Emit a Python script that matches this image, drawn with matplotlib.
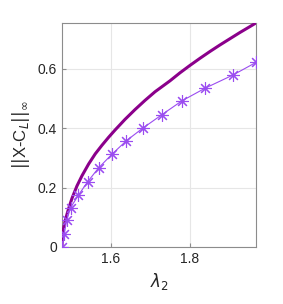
import matplotlib
matplotlib.use("Agg")
import matplotlib.pyplot as plt

# solid curve
curve_x = [1.476, 1.4764, 1.4775, 1.479, 1.481, 1.4844, 1.4890, 1.4930,
           1.5013, 1.5140, 1.5266, 1.5436, 1.5603, 1.5773, 1.5942, 1.6102,
           1.6355, 1.6608, 1.6861, 1.7114, 1.7494, 1.7747, 1.800, 1.8254,
           1.8507, 1.876, 1.9013, 1.9266, 1.952, 1.967]
curve_y = [0.0, 0.022, 0.040, 0.055, 0.070, 0.090, 0.112, 0.130,
           0.164, 0.206, 0.240, 0.280, 0.314, 0.343, 0.370, 0.394,
           0.430, 0.463, 0.494, 0.523, 0.560, 0.587, 0.612, 0.636,
           0.659, 0.681, 0.702, 0.723, 0.743, 0.755]

# marker series
mark_x = [1.4768, 1.4818, 1.4879, 1.498, 1.5173, 1.541, 1.569, 1.602, 1.638,
          1.680, 1.728, 1.779, 1.838, 1.9095, 1.967]
mark_y = [0.0, 0.045, 0.09, 0.133, 0.174, 0.22, 0.267, 0.312, 0.357, 0.400,
          0.445, 0.492, 0.535, 0.580, 0.622]

plt.rcParams["font.family"] = ["Liberation Sans", "DejaVu Sans"]

fig = plt.figure(figsize=(2.83, 3.04), dpi=100)
ax = fig.add_axes([0.219, 0.1875, 0.6855, 0.737])

ax.plot(curve_x, curve_y, color="#8B008B", lw=2.2, zorder=3)
ax.plot(mark_x, mark_y, color="#9B4DF0", lw=0.8, marker=(8, 2, 0),
        markersize=9, markeredgewidth=0.8, zorder=4)

ax.set_xlim(1.476, 1.967)
ax.set_ylim(0, 0.755)
ax.set_xticks([1.6, 1.8])
ax.set_yticks([0, 0.2, 0.4, 0.6])
ax.set_yticklabels(["0", "0.2", "0.4", "0.6"])
ax.grid(True, color="#e6e6e6", lw=0.8)
ax.set_axisbelow(True)
for s in ax.spines.values():
    s.set_color("#8c8c8c")
ax.tick_params(direction="in", length=3, color="#8c8c8c", labelsize=10,
               labelcolor="#262626")
ax.set_xlabel(r"$\lambda_2$", fontsize=12, color="#262626")
ax.set_ylabel(r"$||$X-C$_L||_\infty$", fontsize=12, color="#262626")

fig.savefig("out.png", dpi=100)
